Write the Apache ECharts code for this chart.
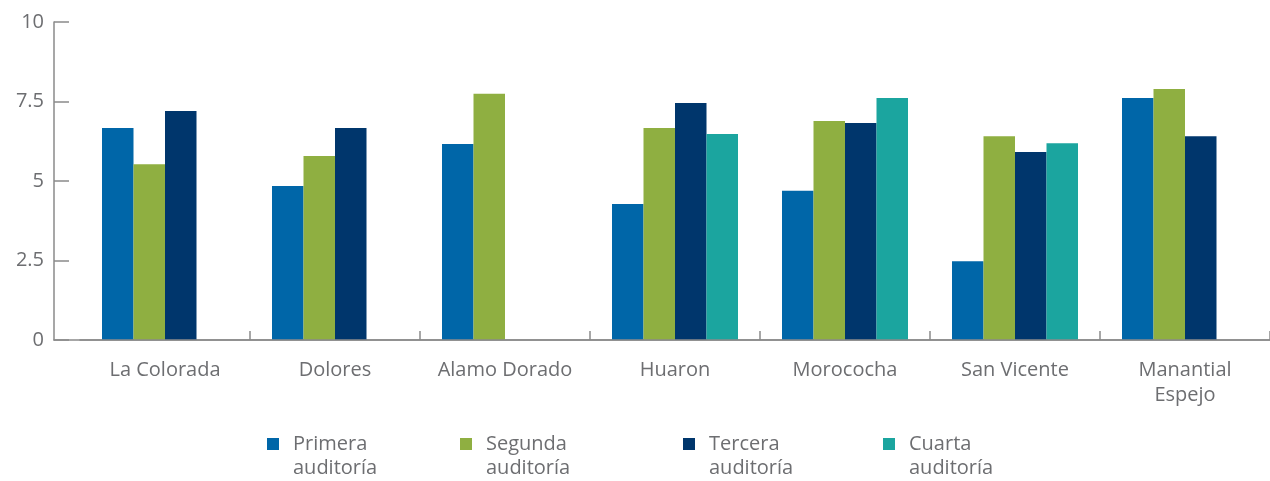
<!DOCTYPE html>
<html>
<head>
<meta charset="utf-8">
<script src="https://cdn.jsdelivr.net/npm/echarts@6/dist/echarts.min.js"></script>
<style>html,body{margin:0;padding:0;background:#fff}#c{width:1270px;height:481px}</style>
</head>
<body>
<div id="c"></div>
<script>
var categories = ['La Colorada', 'Dolores', 'Alamo Dorado', 'Huaron', 'Morococha', 'San Vicente', 'Manantial Espejo'];
var seriesNames = ['Primera auditoría', 'Segunda auditoría', 'Tercera auditoría', 'Cuarta auditoría'];
var primera = [6.67, 4.84, 6.16, 4.28, 4.69, 2.48, 7.61];
var segunda = [5.53, 5.79, 7.74, 6.67, 6.89, 6.41, 7.89];
var tercera = [7.20, 6.67, null, 7.45, 6.82, 5.91, 6.41];
var cuarta = [null, null, null, 6.48, 7.61, 6.19, null];
var yTicks = [0, 2.5, 5, 7.5, 10];

var colors = ['#0066a8', '#8faf41', '#00366c', '#1ba59f'];
var values = [primera, segunda, tercera, cuarta];
var font = '"Open Sans", Roboto, sans-serif';
var grey = '#6d6e71';
var axisGrey = '#8a8a8a';

var chart = echarts.init(document.getElementById('c'), null, {renderer: 'canvas'});

var legendLefts = [267, 460, 683, 883];
var legends = seriesNames.map(function (n, i) {
  return {
    data: [n],
    left: legendLefts[i],
    top: 408,
    padding: 0,
    itemWidth: 12,
    itemHeight: 12,
    itemGap: 0,
    icon: 'rect',
    selectedMode: false,
    formatter: function (name) {
      var p = name.split(' ');
      return ' \n{t|' + p[0] + '}\n{t|' + p[1] + '}';
    },
    textStyle: {
      color: grey, fontSize: 20, fontFamily: font, lineHeight: 24,
      rich: {t: {color: grey, fontSize: 20, fontFamily: font, lineHeight: 24, padding: [0, 0, 0, 9]}}
    }
  };
});

chart.setOption({
  animation: false,
  color: colors,
  grid: [
    {left: 80, right: 0, top: 22, bottom: 141},
    {left: 54, right: 0, top: 22, bottom: 141}
  ],
  legend: legends,
  xAxis: [
    {
      type: 'category', gridIndex: 0, data: categories,
      axisLine: {show: true, lineStyle: {color: axisGrey, width: 1.5}},
      axisTick: {show: true, inside: true, length: 9, lineStyle: {color: axisGrey, width: 1.5},
        interval: function (idx) { return idx !== 0; }},
      axisLabel: {color: grey, fontSize: 20, fontFamily: font, margin: 18, lineHeight: 25,
        interval: 0,
        formatter: function (v) { return v.length > 14 ? v.replace(' ', '\n') : v; }},
      z: 5
    },
    {
      type: 'value', gridIndex: 1, min: 0, max: 1,
      axisLine: {show: true, lineStyle: {color: axisGrey, width: 1.5}},
      axisTick: {show: false}, axisLabel: {show: false}, splitLine: {show: false}
    }
  ],
  yAxis: [
    {
      type: 'value', gridIndex: 0, min: 0, max: 10, interval: 2.5,
      show: false, splitLine: {show: false}
    },
    {
      type: 'value', gridIndex: 1, min: 0, max: 10, interval: 2.5,
      axisLine: {show: true, lineStyle: {color: axisGrey, width: 1.5}},
      axisTick: {show: true, inside: true, length: 15, lineStyle: {color: axisGrey, width: 1.5}},
      axisLabel: {color: grey, fontSize: 20, fontFamily: font, margin: 10,
        formatter: function (v) { return yTicks.indexOf(v) >= 0 ? String(v) : ''; }},
      splitLine: {show: false}
    }
  ],
  series: seriesNames.map(function (n, i) {
    return {
      name: n, type: 'bar', xAxisIndex: 0, yAxisIndex: 0,
      data: values[i], barWidth: 31.5, barGap: '0%',
      itemStyle: {color: colors[i]}
    };
  })
});
</script>
</body>
</html>
